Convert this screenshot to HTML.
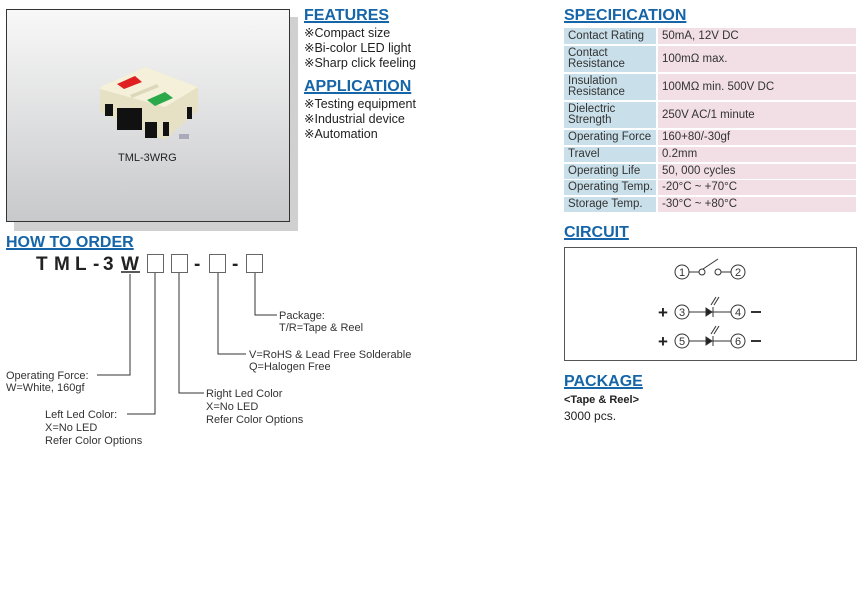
<!DOCTYPE html>
<html><head><meta charset="utf-8"><style>
body{margin:0;width:866px;height:589px;background:#fff;position:relative;overflow:hidden;font-family:"Liberation Sans",Arial,sans-serif;color:#222}
.a{position:absolute;white-space:nowrap}
.h{font-weight:bold;color:#1565a8;font-size:16px;text-decoration:underline;text-decoration-thickness:2px;text-underline-offset:1px}
.t{font-size:12.5px;line-height:15px}
.c{position:absolute;display:flex;align-items:center;font-size:11.5px;line-height:11px;color:#333;box-sizing:border-box;padding-left:4px}
.l{background:#c9dfe9;left:564px;width:92px}
.r{background:#f1dfe5;left:658px;width:198px}
</style></head><body>
<div class="a" style="left:14px;top:17px;width:284px;height:214px;background:#d0d0d0"></div>
<div class="a" style="left:6px;top:9px;width:282px;height:211px;border:1px solid #333;background:linear-gradient(#f8f8f8,#c8c9cb)"></div>
<svg class="a" style="left:95px;top:62px" width="110" height="85" viewBox="0 0 110 85">
<polygon points="5,25 50,5 103,25 103,48 70,78 5,50" fill="#e6e1c4"/>
<polygon points="5,25 50,5 103,25 70,45 5,27" fill="#f4f0da"/>
<polygon points="22,22 40,14 47,20 29,27" fill="#e02020"/>
<polygon points="52,38 70,30 78,36 60,44" fill="#2aa84a"/>
<polygon points="35,33 62,22 64,25 37,36" fill="#ddd8bc"/>
<rect x="10" y="42" width="8" height="12" fill="#111"/>
<rect x="22" y="46" width="25" height="22" fill="#111"/>
<rect x="50" y="60" width="12" height="16" fill="#111"/>
<rect x="68" y="60" width="6" height="14" fill="#111"/>
<rect x="92" y="45" width="5" height="12" fill="#111"/>
<rect x="84" y="72" width="10" height="5" fill="#aab"/>
</svg>
<div class="a" style="left:118px;top:152px;font-size:11px">TML-3WRG</div>

<div class="a h" style="left:304px;top:7px">FEATURES</div>
<div class="a t" style="left:304px;top:26px">※Compact size<br>※Bi-color LED light<br>※Sharp click feeling</div>
<div class="a h" style="left:304px;top:78px">APPLICATION</div>
<div class="a t" style="left:304px;top:97px">※Testing equipment<br>※Industrial device<br>※Automation</div>

<div class="a h" style="left:564px;top:7px">SPECIFICATION</div>
<div class="c l" style="top:28px;height:16px">Contact Rating</div><div class="c r" style="top:28px;height:16px">50mA, 12V DC</div>
<div class="c l" style="top:46px;height:26px">Contact<br>Resistance</div><div class="c r" style="top:46px;height:26px">100mΩ max.</div>
<div class="c l" style="top:74px;height:26px">Insulation<br>Resistance</div><div class="c r" style="top:74px;height:26px">100MΩ min. 500V DC</div>
<div class="c l" style="top:102px;height:26px">Dielectric<br>Strength</div><div class="c r" style="top:102px;height:26px">250V AC/1 minute</div>
<div class="c l" style="top:130px;height:15px">Operating Force</div><div class="c r" style="top:130px;height:15px">160+80/-30gf</div>
<div class="c l" style="top:147px;height:15px">Travel</div><div class="c r" style="top:147px;height:15px">0.2mm</div>
<div class="c l" style="top:164px;height:15px">Operating Life</div><div class="c r" style="top:164px;height:15px">50, 000 cycles</div>
<div class="c l" style="top:180px;height:15px">Operating Temp.</div><div class="c r" style="top:180px;height:15px">-20°C ~ +70°C</div>
<div class="c l" style="top:197px;height:15px">Storage Temp.</div><div class="c r" style="top:197px;height:15px">-30°C ~ +80°C</div>

<div class="a h" style="left:564px;top:224px">CIRCUIT</div>
<div class="a" style="left:564px;top:247px;width:291px;height:112px;border:1px solid #555"></div>
<svg class="a" style="left:650px;top:250px" width="120" height="105" viewBox="650 250 120 105" font-family="Liberation Sans,sans-serif" font-size="11" fill="none" stroke="#333">
<circle cx="682" cy="272" r="7"/><text x="682" y="276" text-anchor="middle" fill="#333" stroke="none">1</text>
<line x1="689" y1="272" x2="699" y2="272"/><circle cx="702" cy="272" r="3"/><line x1="703" y1="269" x2="718" y2="259"/>
<circle cx="718" cy="272" r="3"/><line x1="721" y1="272" x2="731" y2="272"/>
<circle cx="738" cy="272" r="7"/><text x="738" y="276" text-anchor="middle" fill="#333" stroke="none">2</text>
<g>
<text x="663" y="318" text-anchor="middle" fill="#222" stroke="none" font-size="17" font-weight="bold">+</text>
<circle cx="682" cy="312" r="7"/><text x="682" y="316" text-anchor="middle" fill="#333" stroke="none">3</text>
<line x1="689" y1="312" x2="731" y2="312"/><polygon points="706,308 706,316 712,312" fill="#222"/><line x1="713" y1="307" x2="713" y2="317"/>
<line x1="711" y1="305" x2="716" y2="297"/><line x1="714" y1="305" x2="719" y2="297"/>
<circle cx="738" cy="312" r="7"/><text x="738" y="316" text-anchor="middle" fill="#333" stroke="none">4</text>
<line x1="751" y1="312" x2="761" y2="312" stroke-width="2"/>
</g>
<g transform="translate(0,29)">
<text x="663" y="318" text-anchor="middle" fill="#222" stroke="none" font-size="17" font-weight="bold">+</text>
<circle cx="682" cy="312" r="7"/><text x="682" y="316" text-anchor="middle" fill="#333" stroke="none">5</text>
<line x1="689" y1="312" x2="731" y2="312"/><polygon points="706,308 706,316 712,312" fill="#222"/><line x1="713" y1="307" x2="713" y2="317"/>
<line x1="711" y1="305" x2="716" y2="297"/><line x1="714" y1="305" x2="719" y2="297"/>
<circle cx="738" cy="312" r="7"/><text x="738" y="316" text-anchor="middle" fill="#333" stroke="none">6</text>
<line x1="751" y1="312" x2="761" y2="312" stroke-width="2"/>
</g>
</svg>

<div class="a h" style="left:564px;top:373px">PACKAGE</div>
<div class="a" style="left:564px;top:394px;font-size:11px;font-weight:bold">&lt;Tape &amp; Reel&gt;</div>
<div class="a" style="left:564px;top:409px;font-size:12px">3000 pcs.</div>

<div class="a h" style="left:6px;top:234px">HOW TO ORDER</div>
<svg class="a" style="left:0;top:250px" width="440" height="200" viewBox="0 250 440 200" font-family="Liberation Sans,sans-serif">
<g font-size="19" font-weight="bold" fill="#222">
<text x="36" y="270">T</text><text x="54" y="270">M</text><text x="75" y="270">L</text><text x="93" y="270">-</text><text x="103" y="270">3</text><text x="121" y="270">W</text>
<text x="194" y="270">-</text><text x="232" y="270">-</text></g>
<line x1="121" y1="272" x2="140" y2="272" stroke="#222" stroke-width="1.5"/>
<g fill="none" stroke="#666"><rect x="147.5" y="254.5" width="16" height="18"/><rect x="171.5" y="254.5" width="16" height="18"/><rect x="209.5" y="254.5" width="16" height="18"/><rect x="246.5" y="254.5" width="16" height="18"/></g>
<g fill="none" stroke="#333">
<polyline points="130,274 130,375 97,375"/>
<polyline points="155,273 155,414 127,414"/>
<polyline points="179,273 179,393 204,393"/>
<polyline points="218,273 218,354 246,354"/>
<polyline points="255,273 255,315 277,315"/>
</g>
<g font-size="11" fill="#333">
<text x="279" y="319">Package:</text><text x="279" y="331">T/R=Tape &amp; Reel</text>
<text x="249" y="358">V=RoHS &amp; Lead Free Solderable</text><text x="249" y="370">Q=Halogen Free</text>
<text x="6" y="379">Operating Force:</text><text x="6" y="391">W=White, 160gf</text>
<text x="206" y="397">Right Led Color</text><text x="206" y="410">X=No LED</text><text x="206" y="423">Refer Color Options</text>
<text x="45" y="418">Left Led Color:</text><text x="45" y="431">X=No LED</text><text x="45" y="444">Refer Color Options</text>
</g>
</svg>
</body></html>
